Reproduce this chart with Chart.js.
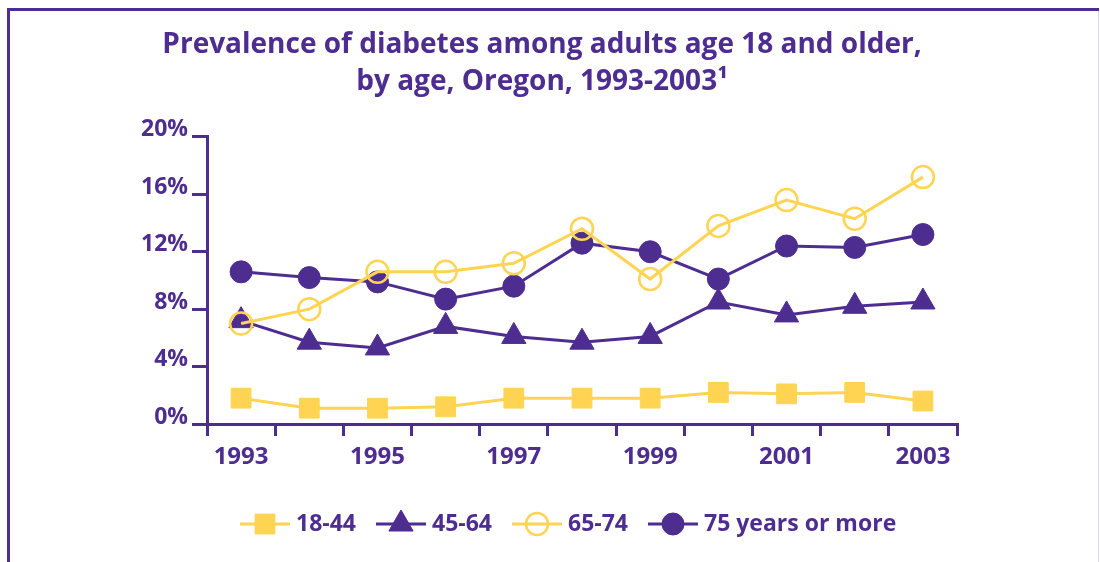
<!DOCTYPE html>
<html>
<head>
<meta charset="utf-8">
<script src="https://cdn.jsdelivr.net/npm/chart.js@4.4.1/dist/chart.umd.min.js"></script>
<style>
  html, body { margin: 0; padding: 0; background: #fff; }
  canvas { display: block; }
</style>
</head>
<body>
<canvas id="chart" width="1100" height="562"></canvas>
<script>
// Survey years (one category per year)
const years = ['1993', '1994', '1995', '1996', '1997', '1998', '1999', '2000', '2001', '2002', '2003'];

// Diabetes prevalence (%) by age group
const age18to44 = [1.8, 1.1, 1.1, 1.2, 1.8, 1.8, 1.8, 2.2, 2.1, 2.2, 1.6];
const age45to64 = [7.2, 5.7, 5.3, 6.8, 6.1, 5.7, 6.1, 8.5, 7.6, 8.2, 8.5];
const age65to74 = [7.0, 8.0, 10.6, 10.6, 11.2, 13.6, 10.1, 13.8, 15.6, 14.3, 17.2];
const age75plus = [10.6, 10.2, 9.9, 8.7, 9.6, 12.6, 12.0, 10.1, 12.4, 12.3, 13.2];

const seriesNames = ['18-44', '45-64', '65-74', '75 years or more'];
const titleLines = ['Prevalence of diabetes among adults age 18 and older,', 'by age, Oregon, 1993-2003\u00B9'];

const PURPLE = '#4E2D91';
const YELLOW = '#FFD452';
const FONT = '"Open Sans"';

// Purple frame around the figure
const framePlugin = {
  id: 'frame',
  beforeDraw(chart) {
    const ctx = chart.ctx;
    ctx.save();
    ctx.fillStyle = '#ffffff';
    ctx.fillRect(0, 0, chart.width, chart.height);
    ctx.fillStyle = PURPLE;
    ctx.fillRect(7, 8, 1092, 3);
    ctx.fillRect(7, 8, 3, chart.height - 8);
    ctx.fillStyle = '#dcd6ea';
    ctx.fillRect(1098, 11, 1, chart.height - 11);
    ctx.restore();
  }
};

// Legend: a short line with the series marker in its middle, then the label
const lineLegend = {
  id: 'lineLegend',
  afterDraw(chart) {
    const ctx = chart.ctx;
    const y = 524;
    let x = 240;
    ctx.save();
    ctx.font = 'bold 23px ' + FONT;
    ctx.textBaseline = 'middle';
    ctx.textAlign = 'left';
    chart.data.datasets.forEach(ds => {
      ctx.strokeStyle = ds.borderColor;
      ctx.lineWidth = ds.borderWidth;
      ctx.beginPath();
      ctx.moveTo(x, y);
      ctx.lineTo(x + 50, y);
      ctx.stroke();
      ctx.fillStyle = ds.pointBackgroundColor;
      ctx.strokeStyle = ds.pointBorderColor;
      ctx.lineWidth = ds.pointBorderWidth;
      Chart.helpers.drawPoint(ctx, {
        pointStyle: ds.pointStyle,
        radius: ds.pointRadius,
        borderWidth: ds.pointBorderWidth,
        rotation: 0
      }, x + 25, y);
      ctx.fillStyle = PURPLE;
      ctx.fillText(ds.label, x + 56, y);
      x += 56 + ctx.measureText(ds.label).width + 20;
    });
    ctx.restore();
  }
};

function series(label, data, color, style, radius, fill, borderW, order) {
  return {
    label: label,
    data: data,
    borderColor: color,
    borderWidth: 3,
    backgroundColor: color,
    pointStyle: style,
    pointRadius: radius,
    pointHoverRadius: radius,
    pointBackgroundColor: fill,
    pointBorderColor: color,
    pointBorderWidth: borderW,
    tension: 0,
    fill: false,
    clip: false,
    order: order
  };
}

function draw() {
  new Chart(document.getElementById('chart'), {
    type: 'line',
    data: {
      labels: years,
      datasets: [
        series(seriesNames[0], age18to44, YELLOW, 'rect', 14, YELLOW, 1, 3),
        series(seriesNames[1], age45to64, PURPLE, 'triangle', 14, PURPLE, 1, 2),
        series(seriesNames[2], age65to74, YELLOW, 'circle', 11, 'rgba(0,0,0,0)', 2.5, 0),
        series(seriesNames[3], age75plus, PURPLE, 'circle', 11, PURPLE, 1, 1)
      ]
    },
    options: {
      responsive: false,
      animation: false,
      devicePixelRatio: 1,
      layout: { padding: { left: 127, right: 143, top: 0, bottom: 78 } },
      plugins: {
        legend: { display: false },
        tooltip: { enabled: false },
        title: {
          display: true,
          text: titleLines,
          color: PURPLE,
          font: { family: FONT, size: 28, weight: 'bold', lineHeight: 1.32 },
          padding: { top: 27, bottom: 36 }
        }
      },
      scales: {
        x: {
          type: 'category',
          offset: true,
          afterFit(scale) { scale.height = 60; },
          border: { display: true, color: PURPLE, width: 3 },
          grid: {
            offset: true,
            drawOnChartArea: false,
            drawTicks: true,
            tickLength: 12,
            color: PURPLE,
            lineWidth: 3
          },
          ticks: {
            autoSkip: false,
            maxRotation: 0,
            padding: 7,
            color: PURPLE,
            font: { family: FONT, size: 24, weight: 'bold' },
            callback: function (value, index) {
              return index % 2 === 0 ? this.getLabelForValue(value) : '';
            }
          }
        },
        y: {
          min: 0,
          max: 20,
          afterFit(scale) { scale.width = 80; },
          border: { display: true, color: PURPLE, width: 3 },
          grid: {
            drawOnChartArea: false,
            drawTicks: true,
            tickLength: 15,
            color: PURPLE,
            lineWidth: 3
          },
          ticks: {
            stepSize: 4,
            padding: 4,
            labelOffset: -7,
            color: PURPLE,
            font: { family: FONT, size: 23, weight: 'bold' },
            callback: v => v + '%'
          }
        }
      }
    },
    plugins: [framePlugin, lineLegend]
  });
}

document.fonts.load('bold 24px "Open Sans"').then(draw, draw);
</script>
</body>
</html>
